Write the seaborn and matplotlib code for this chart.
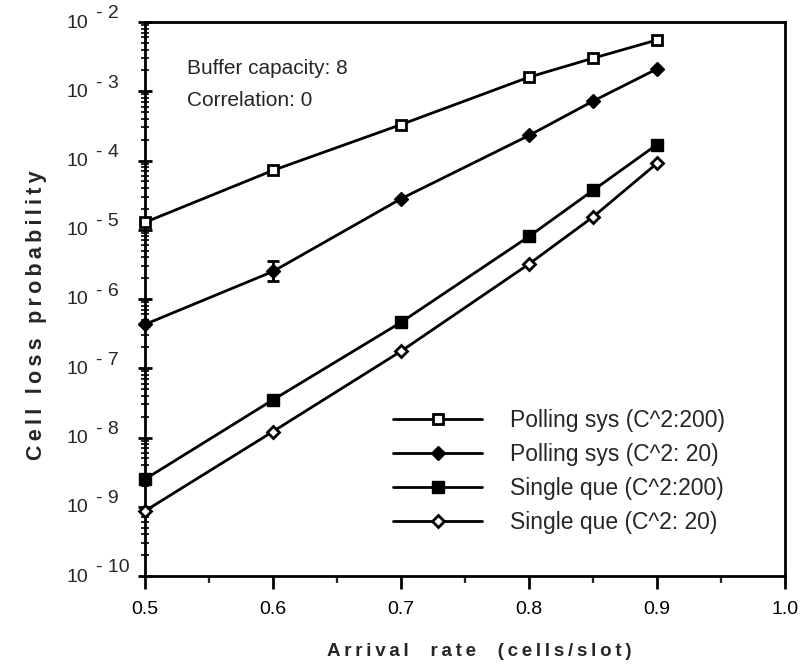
import numpy as np
import pandas as pd
import matplotlib
matplotlib.use("Agg")
import matplotlib.pyplot as plt
import matplotlib.transforms as mtransforms
import seaborn as sns
from matplotlib.ticker import LogLocator, MultipleLocator, FixedLocator, FixedFormatter, NullFormatter

# ---- data ----
x_polling200 = [0.5, 0.6, 0.7, 0.8, 0.85, 0.9]
y_polling200 = [1.28e-5, 7.2e-5, 3.3e-4, 1.6e-3, 3.0e-3, 5.5e-3]

x_polling20 = [0.5, 0.6, 0.7, 0.8, 0.85, 0.9]
y_polling20 = [4.3e-7, 2.5e-6, 2.8e-5, 2.3e-4, 7.2e-4, 2.1e-3]

x_single200 = [0.5, 0.6, 0.7, 0.8, 0.85, 0.9]
y_single200 = [2.5e-9, 3.5e-8, 4.6e-7, 8.0e-6, 3.7e-5, 1.7e-4]

x_single20 = [0.5, 0.6, 0.7, 0.8, 0.85, 0.9]
y_single20 = [8.7e-10, 1.22e-8, 1.76e-7, 3.2e-6, 1.53e-5, 9.1e-5]

# error bar on Polling sys (C^2: 20) at 0.6
err_x = [0.6]
err_y = [2.5e-6]
err_lo = [1.8e-6]
err_hi = [3.5e-6]

labels = ["Polling sys (C^2:200)", "Polling sys (C^2: 20)",
          "Single que (C^2:200)", "Single que (C^2: 20)"]
x_ticks = [0.5, 0.6, 0.7, 0.8, 0.9, 1.0]
x_ticklabels = ["0.5", "0.6", "0.7", "0.8", "0.9", "1.0"]
y_exponents = [-2, -3, -4, -5, -6, -7, -8, -9, -10]
x_title = "Arrival  rate  (cells/slot)"
y_title = "Cell loss probability"

# ---- style ----
sns.set_style("ticks")
plt.rcParams['font.family'] = ['Liberation Sans', 'DejaVu Sans']

def spaced(s):
    return "\u2009".join(list(s))

fig = plt.figure(figsize=(8.0, 6.65), dpi=100)
ax = fig.add_axes([145/800, 1 - 576/665, 640/800, 554/665])

series = [
    (x_polling200, y_polling200, labels[0], dict(marker='s', markersize=7, markerfacecolor='white', markeredgecolor='black', markeredgewidth=2.0)),
    (x_polling20, y_polling20, labels[1], dict(marker='D', markersize=7, markerfacecolor='black', markeredgecolor='black', markeredgewidth=1.0)),
    (x_single200, y_single200, labels[2], dict(marker='s', markersize=8, markerfacecolor='black', markeredgecolor='black', markeredgewidth=1.0)),
    (x_single20, y_single20, labels[3], dict(marker='D', markersize=6.5, markerfacecolor='white', markeredgecolor='black', markeredgewidth=2.0)),
]

for xs, ys, lab, mk in series:
    df = pd.DataFrame({"x": xs, "y": ys})
    sns.lineplot(data=df, x="x", y="y", ax=ax, color='black', linewidth=2.0,
                 label=lab, clip_on=False, zorder=3, **mk)

ax.errorbar(err_x, err_y,
            yerr=[[err_y[0] - err_lo[0]], [err_hi[0] - err_y[0]]],
            fmt='none', ecolor='black', elinewidth=2.0, capsize=4.5, capthick=2.0, zorder=4)

ax.set_yscale('log')
ax.set_xlim(0.5, 1.0)
ax.set_ylim(1e-10, 1e-2)

ax.xaxis.set_major_locator(FixedLocator(x_ticks))
ax.xaxis.set_major_formatter(FixedFormatter(x_ticklabels))
ax.xaxis.set_minor_locator(MultipleLocator(0.05))

yt = [10.0 ** e for e in y_exponents]
ax.yaxis.set_major_locator(FixedLocator(yt))
ax.yaxis.set_major_formatter(NullFormatter())
ax.yaxis.set_minor_locator(LogLocator(base=10, subs=np.arange(2, 10), numticks=100))
ax.yaxis.set_minor_formatter(NullFormatter())

# y tick labels: "10" with full-size raised exponent
ytrans = ax.get_yaxis_transform()
base_tr = mtransforms.offset_copy(ytrans, fig=fig, x=-57, y=-1, units='dots')
exp_tr = mtransforms.offset_copy(ytrans, fig=fig, x=-49, y=8, units='dots')
for e, v in zip(y_exponents, yt):
    ax.text(0, v, "10", transform=base_tr, ha='right', va='center', fontsize=14, clip_on=False)
    ax.text(0, v, "- %d" % (-e), transform=exp_tr, ha='left', va='center', fontsize=14, clip_on=False)

for s in ax.spines.values():
    s.set_linewidth(2.0)
    s.set_color('black')
    s.set_visible(True)

ax.tick_params(axis='x', which='major', direction='out', length=9, width=2.0, labelsize=14, pad=9, colors='black')
ax.tick_params(axis='x', which='minor', direction='out', length=5, width=1.6)
ax.tick_params(axis='y', which='major', direction='inout', length=10, width=2.0, colors='black')
ax.tick_params(axis='y', which='minor', direction='inout', length=6, width=1.4)

ax.set_xlabel(spaced(x_title), fontsize=13.5, fontweight='bold', va='center')
ax.set_ylabel(spaced(y_title), fontsize=15.5, fontweight='bold', va='center')
ax.xaxis.set_label_coords((479 - 145)/640, (576 - 652)/554)
ax.yaxis.set_label_coords((37 - 145)/640, (576 - 315)/554)

fig.text(187/800, 1 - 68/665, "Buffer capacity: 8", fontsize=15, va='center', ha='left')
fig.text(187/800, 1 - 101/665, "Correlation: 0", fontsize=15, va='center', ha='left')

leg = ax.legend(loc='upper left', bbox_to_anchor=((393 - 145)/640, (576 - 409)/554),
                frameon=False, fontsize=16.5, handlelength=3.9, handletextpad=1.2,
                labelspacing=0.48, borderaxespad=0, borderpad=0)

fig.savefig("out.png", dpi=100, facecolor='white')
